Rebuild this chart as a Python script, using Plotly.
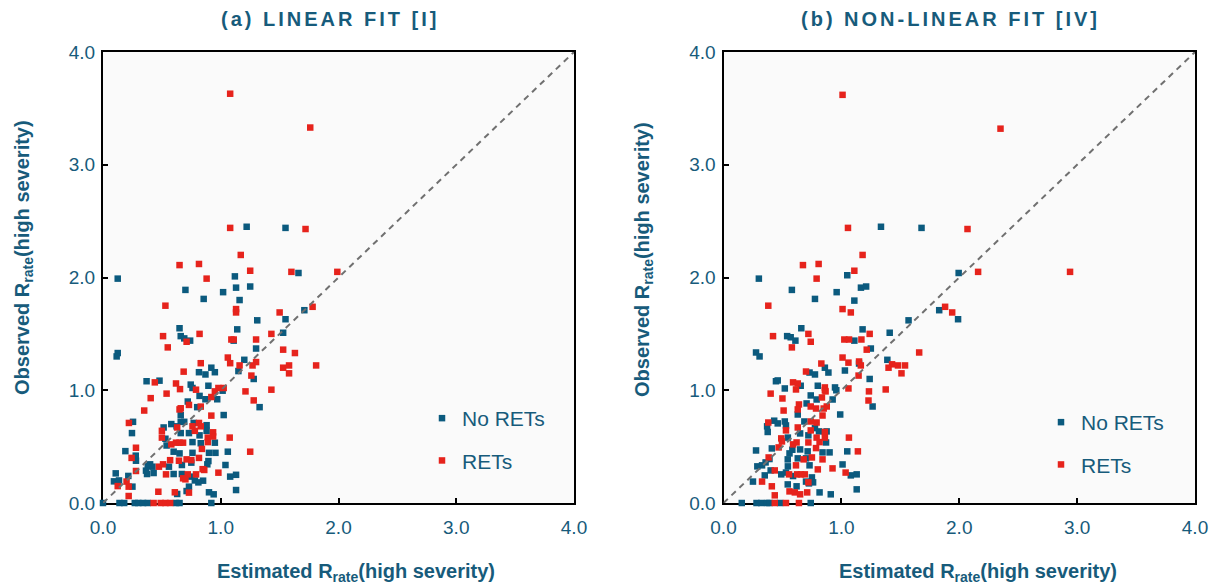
import plotly.graph_objects as go

# ---------------- data ----------------
# Panel (a): linear fit [I]
lin_no_x = [0.125, 1.12, 1.66, 0.70, 1.02, 1.13, 1.25, 0.855, 1.16, 1.71, 1.55, 1.31, 0.65, 0.66, 0.69, 0.74,
            1.14, 1.53, 1.11, 1.30, 0.125, 0.116, 1.20, 1.15, 0.815, 0.87, 0.92, 0.95, 1.28, 0.37, 0.48, 0.745,
            0.76, 0.895, 1.016, 0.82, 0.87, 0.97, 1.33, 0.72, 0.80, 0.66, 1.025, 0.255, 0.66, 0.69, 0.58, 0.515,
            0.625, 0.77, 0.88, 0.246, 0.66, 0.73, 0.82, 0.88, 0.53, 0.54, 0.76, 0.83, 0.95, 0.19, 0.60, 0.65,
            0.76, 0.90, 0.955, 1.06, 0.28, 0.40, 0.38, 0.42, 0.56, 0.67, 0.75, 0.895, 0.886, 1.04, 0.365, 0.43,
            0.374, 0.108, 0.60, 0.67, 0.75, 1.08, 1.13, 0.78, 0.85, 0.81, 0.093, 0.136, 0.215, 0.25, 0.73, 0.63,
            0.71, 0.90, 0.94, 1.13, 1.22, 1.55, 0.278,
            0.0, 0.14, 0.18, 0.27, 0.30, 0.34, 0.38, 0.62, 0.65, 0.92]
lin_no_y = [1.99, 2.01, 2.04, 1.89, 1.87, 1.91, 1.92, 1.81, 1.80, 1.71, 1.63, 1.62, 1.55, 1.48, 1.46, 1.44,
            1.54, 1.51, 1.44, 1.37, 1.33, 1.30, 1.27, 1.17, 1.16, 1.14, 1.20, 1.16, 1.10, 1.08, 1.085, 1.05,
            1.02, 1.04, 0.996, 0.95, 0.92, 0.92, 0.85, 0.90, 0.85, 0.78, 0.78, 0.72, 0.72, 0.72, 0.70, 0.67,
            0.68, 0.71, 0.69, 0.62, 0.62, 0.62, 0.60, 0.64, 0.57, 0.51, 0.54, 0.53, 0.535, 0.46, 0.455, 0.44,
            0.445, 0.445, 0.445, 0.455, 0.375, 0.343, 0.33, 0.322, 0.322, 0.337, 0.358, 0.372, 0.343, 0.337, 0.287, 0.266,
            0.257, 0.263, 0.257, 0.257, 0.234, 0.234, 0.25, 0.20, 0.198, 0.183, 0.192, 0.20, 0.24, 0.145, 0.145, 0.08,
            0.106, 0.095, 0.077, 0.115, 2.45, 2.44, 0.42,
            0.0, 0.0, 0.0, 0.0, 0.0, 0.0, 0.0, 0.0, 0.0, 0.0]

lin_ret_x = [1.08, 1.76, 1.08, 1.72, 1.17, 0.65, 0.815, 1.25, 1.60, 1.99, 0.88, 0.53, 1.13, 1.13, 1.78, 1.50,
             0.82, 0.51, 0.71, 1.43, 1.09, 1.11, 1.30, 0.55, 1.53, 1.63, 1.06, 1.08, 1.30, 0.83, 1.16, 1.27,
             1.53, 1.58, 1.81, 1.58, 0.685, 1.26, 0.44, 0.62, 0.654, 0.79, 0.98, 1.025, 0.95, 1.21, 1.43, 0.54,
             0.92, 0.405, 1.28, 0.73, 0.83, 0.65, 0.66, 0.35, 0.92, 0.22, 0.63, 0.76, 0.815, 0.83, 0.50, 0.50,
             0.78, 0.935, 0.935, 0.89, 1.076, 0.58, 0.62, 0.65, 0.68, 0.89, 0.28, 0.84, 1.25, 0.243, 0.475, 0.51,
             0.57, 0.645, 0.71, 0.75, 0.815, 0.846, 0.86, 0.28, 0.535, 0.72, 0.79, 0.98, 0.68, 0.70, 0.125, 0.218,
             0.20, 0.47, 0.61, 0.73, 0.218,
             0.43, 0.49, 0.53, 0.57]
lin_ret_y = [3.63, 3.33, 2.44, 2.43, 2.20, 2.11, 2.12, 2.06, 2.05, 2.05, 1.99, 1.75, 1.72, 1.69, 1.74, 1.69,
             1.50, 1.48, 1.43, 1.50, 1.45, 1.45, 1.45, 1.38, 1.36, 1.33, 1.29, 1.24, 1.25, 1.24, 1.22, 1.22,
             1.20, 1.22, 1.22, 1.15, 1.165, 1.13, 1.07, 1.06, 1.01, 1.005, 1.02, 1.02, 0.99, 0.99, 1.005, 0.97,
             0.94, 0.93, 0.91, 0.87, 0.855, 0.83, 0.84, 0.82, 0.775, 0.71, 0.67, 0.68, 0.71, 0.68, 0.64, 0.58,
             0.64, 0.627, 0.59, 0.58, 0.58, 0.52, 0.535, 0.535, 0.535, 0.54, 0.49, 0.48, 0.455, 0.40, 0.322, 0.343,
             0.38, 0.375, 0.387, 0.38, 0.40, 0.30, 0.293, 0.284, 0.254, 0.254, 0.254, 0.269, 0.219, 0.21, 0.15, 0.145,
             0.19, 0.10, 0.095, 0.092, 0.062,
             0.0, 0.0, 0.0, 0.0]

# Panel (b): non-linear fit [IV]
nl_no_x = [1.336, 1.68, 1.995, 0.30, 1.05, 0.58, 0.96, 1.166, 1.21, 0.776, 1.11, 1.83, 1.99, 1.57, 0.66, 1.18,
           0.54, 0.57, 0.61, 1.11, 1.41, 1.25, 0.276, 0.306, 1.15, 1.39, 0.86, 0.89, 1.03, 0.73, 0.776, 1.24,
           0.445, 0.46, 0.655, 0.80, 0.52, 0.946, 0.957, 0.74, 0.79, 0.926, 0.705, 1.265, 0.63, 0.99, 0.37, 0.375,
           0.43, 0.46, 0.52, 0.53, 0.686, 0.776, 0.81, 0.875, 0.546, 0.65, 0.72, 0.87, 0.41, 0.276, 0.584, 0.65,
           0.714, 0.84, 0.90, 1.05, 0.39, 0.357, 0.56, 0.545, 0.63, 0.70, 0.73, 1.01, 0.287, 0.327, 0.40, 0.49,
           0.53, 0.546, 0.59, 0.75, 0.76, 1.08, 1.13, 0.25, 0.35, 0.545, 0.62, 0.70, 0.725, 1.13, 0.815, 0.91,
           0.155, 0.28, 0.32, 0.37, 0.39, 0.48, 0.74]
nl_no_y = [2.45, 2.44, 2.04, 1.99, 2.02, 1.89, 1.87, 1.91, 1.92, 1.81, 1.795, 1.71, 1.63, 1.62, 1.55, 1.54,
           1.48, 1.47, 1.44, 1.44, 1.51, 1.37, 1.335, 1.30, 1.237, 1.27, 1.20, 1.157, 1.175, 1.157, 1.14, 1.10,
           1.08, 1.087, 1.04, 1.04, 1.016, 1.025, 1.0, 0.954, 0.918, 0.918, 0.883, 0.856, 0.785, 0.785, 0.68, 0.63,
           0.73, 0.706, 0.723, 0.688, 0.723, 0.664, 0.635, 0.635, 0.58, 0.617, 0.60, 0.537, 0.484, 0.466, 0.472, 0.475,
           0.458, 0.449, 0.449, 0.458, 0.39, 0.36, 0.44, 0.387, 0.396, 0.396, 0.334, 0.342, 0.325, 0.334, 0.289, 0.254,
           0.27, 0.325, 0.239, 0.227, 0.183, 0.245, 0.254, 0.19, 0.245, 0.165, 0.148, 0.19, 0.174, 0.121, 0.094, 0.077,
           0.0, 0.0, 0.0, 0.0, 0.0, 0.0, 0.0]

nl_ret_x = [1.01, 2.35, 1.056, 2.07, 1.18, 0.674, 0.807, 1.11, 2.16, 2.94, 0.79, 0.38, 1.01, 1.08, 1.88, 1.94,
            0.72, 0.42, 0.74, 1.025, 1.065, 1.17, 1.24, 0.58, 1.215, 1.66, 1.01, 1.06, 1.15, 1.165, 1.43, 1.40,
            1.48, 1.54, 1.51, 0.83, 0.70, 1.146, 0.59, 0.63, 0.615, 0.86, 0.86, 0.866, 1.06, 1.234, 1.376, 0.40,
            0.50, 0.835, 1.23, 0.64, 0.74, 0.785, 0.85, 0.876, 0.51, 0.63, 0.84, 0.38, 0.53, 0.63, 0.74, 0.79,
            0.74, 0.86, 0.49, 0.496, 0.79, 0.86, 0.815, 0.468, 0.59, 0.62, 0.72, 1.064, 0.785, 1.14, 0.383, 0.68,
            0.75, 0.84, 0.615, 0.80, 0.925, 0.435, 0.556, 0.625, 0.657, 0.69, 1.036, 0.327, 0.41, 0.72, 0.56, 0.605,
            0.65, 0.71, 0.435,
            0.435, 0.53, 0.64]
nl_ret_y = [3.62, 3.32, 2.44, 2.43, 2.20, 2.11, 2.12, 2.06, 2.05, 2.05, 1.99, 1.75, 1.72, 1.69, 1.74, 1.69,
            1.50, 1.48, 1.43, 1.45, 1.45, 1.45, 1.50, 1.38, 1.36, 1.335, 1.29, 1.245, 1.255, 1.22, 1.23, 1.20,
            1.22, 1.22, 1.15, 1.237, 1.166, 1.13, 1.07, 1.06, 1.007, 1.025, 1.0, 0.99, 1.016, 0.99, 1.007, 0.97,
            0.927, 0.936, 0.909, 0.874, 0.856, 0.838, 0.838, 0.856, 0.82, 0.83, 0.776, 0.714, 0.644, 0.67, 0.723, 0.714,
            0.644, 0.63, 0.573, 0.546, 0.58, 0.58, 0.54, 0.493, 0.52, 0.537, 0.537, 0.58, 0.487, 0.458, 0.404, 0.387,
            0.404, 0.387, 0.334, 0.298, 0.307, 0.289, 0.254, 0.254, 0.254, 0.254, 0.27, 0.19, 0.148, 0.183, 0.103, 0.094,
            0.077, 0.094, 0.068,
            0.0, 0.0, 0.0]

axis_range = [0, 4]
tick_vals = [0, 1, 2, 3, 4]
tick_text = ["0.0", "1.0", "2.0", "3.0", "4.0"]

# ---------------- styling ----------------
BLUE = "#0b5a7e"
RED = "#e6231c"
TEXT = "#175b7b"
FONT = "Liberation Sans, Arial, Helvetica, sans-serif"
W, H = 1219, 584

fig = go.Figure()


def add_panel(xa, ya, legend, nx, ny, rx, ry):
    common = dict(mode="markers", xaxis=xa, yaxis=ya, legend=legend, cliponaxis=False)
    fig.add_trace(go.Scatter(x=nx, y=ny, name="No RETs", legendgroup=legend + "a",
                             marker=dict(symbol="square", size=6.5, color=BLUE), **common))
    fig.add_trace(go.Scatter(x=rx, y=ry, name="RETs", legendgroup=legend + "b",
                             marker=dict(symbol="square", size=6.5, color=RED), **common))
    fig.add_trace(go.Scatter(x=axis_range, y=axis_range, mode="lines", xaxis=xa, yaxis=ya,
                             showlegend=False, hoverinfo="skip",
                             line=dict(color="#707070", width=2, dash="6px,5px")))


add_panel("x", "y", "legend", lin_no_x, lin_no_y, lin_ret_x, lin_ret_y)
add_panel("x2", "y2", "legend2", nl_no_x, nl_no_y, nl_ret_x, nl_ret_y)

ax_style = dict(range=axis_range, tickvals=tick_vals, ticktext=tick_text, automargin=False,
                showline=True, linecolor="black", linewidth=2, mirror=True,
                ticks="inside", ticklen=5, tickwidth=1.5, tickcolor="black",
                showgrid=False, zeroline=False, layer="below traces",
                tickfont=dict(family=FONT, size=19, color=TEXT))

y_dom = [1 - 503 / H, 1 - 52 / H]
fig.update_layout(
    xaxis=dict(domain=[103 / W, 574 / W], anchor="y", ticklabelstandoff=6, **ax_style),
    yaxis=dict(domain=y_dom, anchor="x", ticklabelstandoff=2, **ax_style),
    xaxis2=dict(domain=[723.5 / W, 1195 / W], anchor="y2", ticklabelstandoff=6, **ax_style),
    yaxis2=dict(domain=y_dom, anchor="x2", ticklabelstandoff=2, **ax_style),
)

legend_style = dict(font=dict(family=FONT, size=21, color=TEXT), bgcolor="rgba(0,0,0,0)",
                    tracegroupgap=12, xanchor="left", yanchor="top", itemwidth=30)
fig.update_layout(
    legend=dict(x=422 / W, y=1 - 398 / H, **legend_style),
    legend2=dict(x=1041 / W, y=1 - 402 / H, **legend_style),
)

title_font = dict(family=FONT, size=20, color=TEXT)
axis_title_font = dict(family=FONT, size=20, color=TEXT)
annotations = [
    dict(text='<b><span style="letter-spacing:3px">(a) LINEAR FIT [I]</span></b>',
         x=330 / W, y=1 - 19 / H, font=title_font),
    dict(text='<b><span style="letter-spacing:3px">(b) NON-LINEAR FIT [IV]</span></b>',
         x=950 / W, y=1 - 19 / H, font=title_font),
    dict(text="<b>Estimated R<sub>rate</sub>(high severity)</b>",
         x=356 / W, y=1 - 572 / H, font=axis_title_font),
    dict(text="<b>Estimated R<sub>rate</sub>(high severity)</b>",
         x=978 / W, y=1 - 572 / H, font=axis_title_font),
    dict(text="<b>Observed R<sub>rate</sub>(high severity)</b>",
         x=23 / W, y=1 - 258 / H, textangle=-90, font=axis_title_font),
    dict(text="<b>Observed R<sub>rate</sub>(high severity)</b>",
         x=643 / W, y=1 - 260 / H, textangle=-90, font=axis_title_font),
]
for a in annotations:
    a.update(xref="paper", yref="paper", showarrow=False, xanchor="center", yanchor="middle")

fig.update_layout(
    width=W, height=H, autosize=False,
    margin=dict(l=0, r=0, t=0, b=0),
    paper_bgcolor="white", plot_bgcolor="#fafafa",
    annotations=annotations,
    font=dict(family=FONT, color=TEXT),
)

fig.write_html("out.html")
